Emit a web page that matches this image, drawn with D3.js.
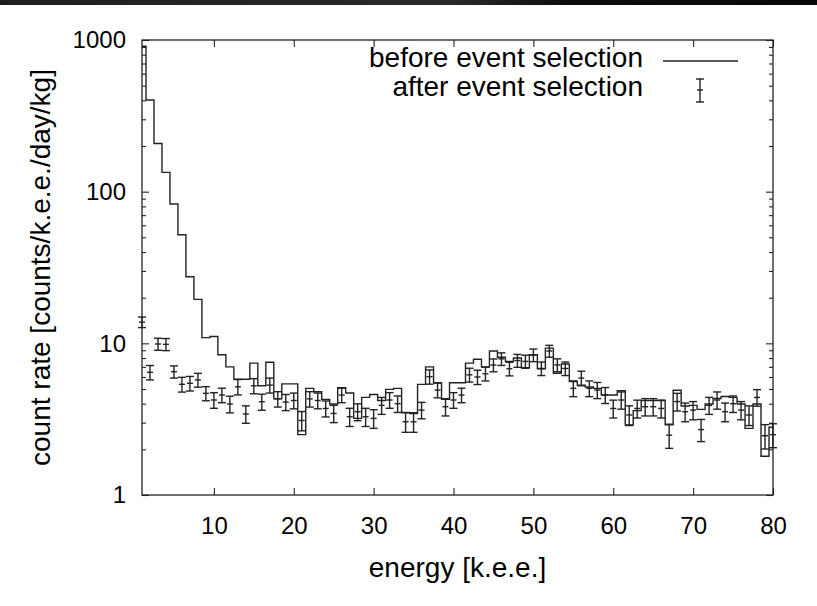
<!DOCTYPE html>
<html>
<head>
<meta charset="utf-8">
<script src="https://cdn.jsdelivr.net/npm/d3@7"></script>
<style>
  body { margin: 0; background: #fff; }
  svg { display: block; }
  text { font-family: "Liberation Sans", Arial, sans-serif; fill: #000; }
</style>
</head>
<body>
<svg id="chart" width="817" height="606"></svg>
<script>
// energy bins, 1 k.e.e. wide, centred on the integers
var energy = d3.range(1, 81);

// before event selection (histogram steps)
var beforeRate = [
  910, 402, 208, 134, 83, 52, 27.5, 19.5, 10.9, 11.1,
  8.4, 7.0, 5.8, 5.8, 7.4, 5.25, 7.5, 4.3, 5.4, 5.4,
  2.5, 5.05, 4.8, 4.27, 3.98, 5.1, 4.7, 3.2, 4.4, 4.6,
  4.2, 4.97, 5.05, 3.5, 3.45, 5.36, 7.0, 5.5, 4.27, 5.5,
  5.5, 7.4, 7.86, 7.0, 8.9, 8.1, 7.6, 8.0, 6.9, 8.4,
  6.8, 9.3, 6.35, 7.3, 5.6, 5.3, 5.15, 5.05, 4.56, 4.56,
  4.87, 2.9, 3.6, 4.2, 4.2, 4.2, 2.9, 4.9, 3.86, 3.9,
  3.67, 3.98, 4.33, 4.46, 4.4, 3.98, 2.75, 3.98, 1.8, 2.8
];

// after event selection (points with error bars)
var afterRate = [
  13.8, 6.44, 9.9, 9.85, 6.5, 5.37, 5.45, 5.74, 4.68, 4.23,
  4.56, 3.98, 5.17, 3.42, 5.25, 4.12, 5.3, 4.3, 4.1, 4.2,
  3.1, 4.3, 4.2, 3.72, 3.45, 4.56, 3.28, 3.54, 3.28, 3.2,
  3.9, 4.23, 4.0, 3.04, 3.04, 3.63, 6.03, 4.92, 3.82, 4.23,
  4.56, 6.2, 6.0, 6.3, 7.19, 7.9, 6.8, 7.7, 7.6, 8.37,
  6.83, 8.9, 7.2, 6.83, 5.05, 5.9, 5.05, 4.92, 4.56, 3.72,
  4.23, 3.37, 3.72, 3.82, 3.82, 3.72, 2.48, 4.13, 3.54, 3.63,
  2.7, 3.9, 4.23, 3.54, 4.0, 3.63, 3.37, 4.4, 2.46, 2.5
];

var afterErr = [
  1.1, 0.7, 0.9, 0.9, 0.6, 0.6, 0.6, 0.6, 0.5, 0.5,
  0.5, 0.5, 0.6, 0.45, 0.6, 0.5, 0.6, 0.5, 0.5, 0.5,
  0.45, 0.5, 0.5, 0.45, 0.45, 0.5, 0.45, 0.45, 0.45, 0.45,
  0.5, 0.5, 0.5, 0.45, 0.45, 0.45, 0.65, 0.55, 0.5, 0.5,
  0.5, 0.65, 0.65, 0.65, 0.7, 0.75, 0.7, 0.75, 0.75, 0.8,
  0.7, 0.8, 0.7, 0.7, 0.6, 0.65, 0.6, 0.6, 0.55, 0.5,
  0.55, 0.5, 0.5, 0.5, 0.5, 0.5, 0.45, 0.55, 0.5, 0.5,
  0.45, 0.5, 0.55, 0.5, 0.5, 0.5, 0.5, 0.55, 0.45, 0.45
];

var xTicks = [10, 20, 30, 40, 50, 60, 70, 80];
var yTicks = [1, 10, 100, 1000];
var yMinor = [2,3,4,5,6,7,8,9, 20,30,40,50,60,70,80,90, 200,300,400,500,600,700,800,900];

var legendNames = ["before event selection", "after event selection"];

var svg = d3.select("#chart");
var ink = "#222";

// dark strip along the top edge
var grad = svg.append("defs").append("linearGradient").attr("id", "band");
grad.append("stop").attr("offset", "0%").attr("stop-color", "#1e1e1e");
grad.append("stop").attr("offset", "55%").attr("stop-color", "#2a2a2a");
grad.append("stop").attr("offset", "70%").attr("stop-color", "#0c0c0c");
grad.append("stop").attr("offset", "100%").attr("stop-color", "#080808");
svg.append("rect").attr("width", 817).attr("height", 5).attr("fill", "url(#band)");

var L = 142, R = 773, T = 40, B = 495;
var x = d3.scaleLinear().domain([1, 80]).range([L, R]);
var y = d3.scaleLog().domain([1, 1000]).range([B, T]);

function style(g) {
  g.select(".domain").remove();
  g.selectAll(".tick line").attr("stroke", ink).attr("stroke-width", 1.1);
  g.selectAll(".tick text").style("font-size", "24px").attr("fill", "#000");
}

svg.append("g").attr("transform", "translate(0," + B + ")")
  .call(d3.axisBottom(x).tickValues(xTicks).tickSize(-7).tickPadding(22).tickFormat(d3.format("d")))
  .call(style);
svg.append("g").attr("transform", "translate(0," + T + ")")
  .call(d3.axisTop(x).tickValues(xTicks).tickSize(-7).tickFormat(""))
  .call(style);
svg.append("g").attr("transform", "translate(" + L + ",0)")
  .call(d3.axisLeft(y).tickValues(yTicks).tickSize(-7).tickPadding(16).tickFormat(d3.format("d")))
  .call(style);
svg.append("g").attr("transform", "translate(" + L + ",0)")
  .call(d3.axisLeft(y).tickValues(yMinor).tickSize(-4).tickFormat(""))
  .call(style);
svg.append("g").attr("transform", "translate(" + R + ",0)")
  .call(d3.axisRight(y).tickValues(yTicks).tickSize(-7).tickFormat(""))
  .call(style);
svg.append("g").attr("transform", "translate(" + R + ",0)")
  .call(d3.axisRight(y).tickValues(yMinor).tickSize(-4).tickFormat(""))
  .call(style);

// frame
svg.append("rect")
  .attr("x", L).attr("y", T).attr("width", R - L).attr("height", B - T)
  .attr("fill", "none").attr("stroke", ink).attr("stroke-width", 1.3);

// histogram before selection
var step = d3.line().curve(d3.curveStep)
  .x(function(d, i) { return x(energy[i]); })
  .y(function(d) { return y(d); });
svg.append("path").datum(beforeRate)
  .attr("d", step)
  .attr("fill", "none").attr("stroke", ink).attr("stroke-width", 1.4);

// error bars after selection
var pts = svg.append("g").attr("stroke", ink).attr("stroke-width", 1.4);
afterRate.forEach(function(v, i) {
  var cx = x(energy[i]);
  var y0 = y(v - afterErr[i]), y1 = y(v + afterErr[i]), yc = y(v);
  pts.append("line").attr("x1", cx).attr("x2", cx).attr("y1", y0).attr("y2", y1);
  pts.append("line").attr("x1", cx - 4).attr("x2", cx + 4).attr("y1", y0).attr("y2", y0);
  pts.append("line").attr("x1", cx - 4).attr("x2", cx + 4).attr("y1", y1).attr("y2", y1);
  pts.append("line").attr("x1", cx - 3).attr("x2", cx + 3).attr("y1", yc).attr("y2", yc);
});

// axis titles
svg.append("text")
  .attr("x", (L + R) / 2).attr("y", 577)
  .attr("text-anchor", "middle").style("font-size", "28px")
  .text("energy [k.e.e.]");
svg.append("text")
  .attr("transform", "translate(50," + (T + B) / 2 + ") rotate(-90)")
  .attr("text-anchor", "middle").style("font-size", "28px")
  .text("count rate [counts/k.e.e./day/kg]");

// legend
var leg = svg.append("g");
leg.append("text").attr("x", 643).attr("y", 67).attr("text-anchor", "end")
  .style("font-size", "28px").text(legendNames[0]);
leg.append("text").attr("x", 643).attr("y", 96).attr("text-anchor", "end")
  .style("font-size", "28px").text(legendNames[1]);
leg.append("line").attr("x1", 663).attr("x2", 738).attr("y1", 61).attr("y2", 61)
  .attr("stroke", ink).attr("stroke-width", 1.4);
var lg = leg.append("g").attr("stroke", ink).attr("stroke-width", 1.4);
lg.append("line").attr("x1", 700).attr("x2", 700).attr("y1", 79).attr("y2", 102);
lg.append("line").attr("x1", 696).attr("x2", 704).attr("y1", 79).attr("y2", 79);
lg.append("line").attr("x1", 696).attr("x2", 704).attr("y1", 102).attr("y2", 102);
lg.append("line").attr("x1", 697).attr("x2", 703).attr("y1", 90).attr("y2", 90);
</script>
</body>
</html>
